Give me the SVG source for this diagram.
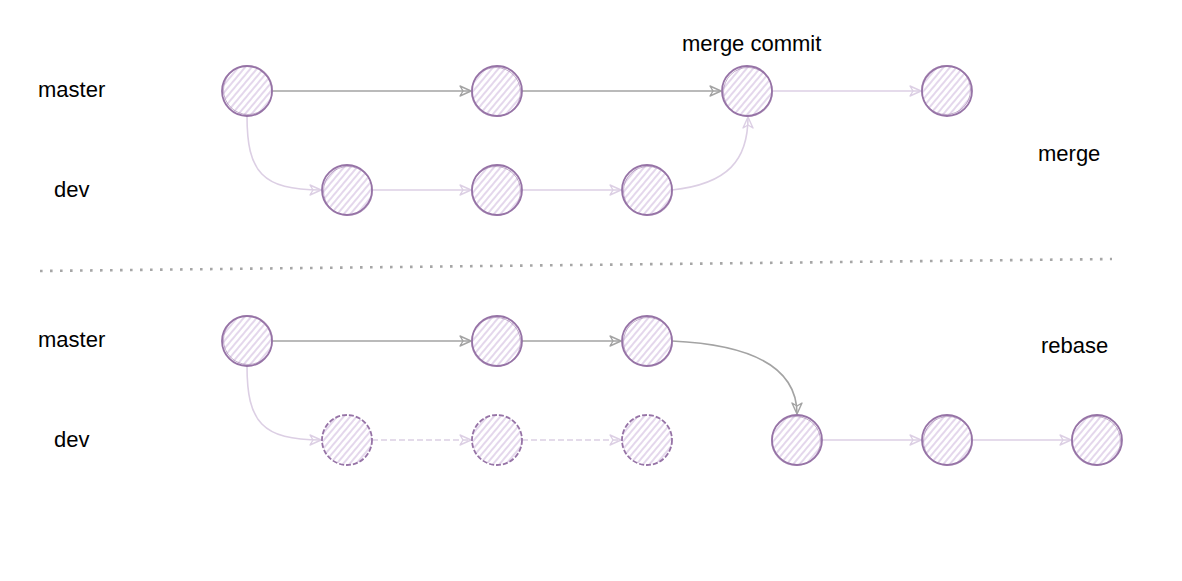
<svg xmlns="http://www.w3.org/2000/svg" width="1182" height="581" viewBox="0 0 1182 581">
<style>
  .lbl { font-family: "Liberation Sans", Arial, sans-serif; font-size: 22px; fill: #000; }
  .node { fill: url(#hatch); stroke: #9673a6; stroke-width: 1.8; }
  .node2 { fill: none; stroke: #9673a6; stroke-width: 0.8; opacity: 0.7; }
  .dash { stroke-dasharray: 5 2; }
  .eg { fill: none; stroke: #a3a3a3; stroke-width: 1.6; marker-end: url(#arrG); }
  .ep { fill: none; stroke: #dccfe4; stroke-width: 1.6; marker-end: url(#arrP); }
  .epd { stroke-dasharray: 6 3; }
</style>
<defs>
  <pattern id="hatch" patternUnits="userSpaceOnUse" width="5" height="5" patternTransform="rotate(40)">
    <rect width="5" height="5" fill="#ffffff"/>
    <line x1="1" y1="0" x2="1" y2="5" stroke="#d9c6e4" stroke-width="1.4"/>
  </pattern>
  <marker id="arrG" markerUnits="userSpaceOnUse" markerWidth="14" markerHeight="12" refX="12" refY="6" orient="auto">
    <path d="M1,1 L12,6 L1,11 L4,6 Z" fill="none" stroke="#a3a3a3" stroke-width="1.4" stroke-linejoin="round"/>
  </marker>
  <marker id="arrP" markerUnits="userSpaceOnUse" markerWidth="14" markerHeight="12" refX="12" refY="6" orient="auto">
    <path d="M1,1 L12,6 L1,11 L4,6 Z" fill="none" stroke="#dccfe4" stroke-width="1.4" stroke-linejoin="round"/>
  </marker>
</defs>

<rect width="1182" height="581" fill="#ffffff"/>

<g id="separator">
  <line x1="40" y1="271" x2="1112" y2="259" stroke="#a6a6a6" stroke-width="2.6" stroke-dasharray="2.6 7.4"/>
</g>

<g id="connectors">
  <!-- merge section -->
  <path class="eg" d="M272,91 L471,91"/>
  <path class="eg" d="M522,91 L721,91"/>
  <path class="ep" d="M772,91 L921,91"/>
  <path class="ep" d="M247,116 C247,172 262,190 321,190"/>
  <path class="ep" d="M372,190 L471,190"/>
  <path class="ep" d="M522,190 L621,190"/>
  <path class="ep" d="M672,190 C728,184 748,160 748,117"/>
  <!-- rebase section -->
  <path class="eg" d="M272,341 L471,341"/>
  <path class="eg" d="M522,341 L621,341"/>
  <path class="eg" d="M672,341 C760,345 797,372 797,414"/>
  <path class="ep" d="M247,366 C247,422 262,440 321,440"/>
  <path class="ep epd" d="M372,440 L471,440"/>
  <path class="ep epd" d="M522,440 L621,440"/>
  <path class="ep" d="M822,440 L921,440"/>
  <path class="ep" d="M972,440 L1071,440"/>
</g>

<g id="m1"><circle class="node" cx="247" cy="91" r="25"/><circle class="node2" cx="248" cy="90" r="24.5"/></g>
<g id="m2"><circle class="node" cx="497" cy="91" r="25"/><circle class="node2" cx="496" cy="92" r="24.5"/></g>
<g id="m3"><circle class="node" cx="747" cy="91" r="25"/><circle class="node2" cx="748" cy="92" r="24.5"/></g>
<g id="m4"><circle class="node" cx="947" cy="91" r="25"/><circle class="node2" cx="946" cy="90" r="24.5"/></g>
<g id="d1"><circle class="node" cx="347" cy="190" r="25"/><circle class="node2" cx="348" cy="191" r="24.5"/></g>
<g id="d2"><circle class="node" cx="497" cy="190" r="25"/><circle class="node2" cx="496" cy="191" r="24.5"/></g>
<g id="d3"><circle class="node" cx="647" cy="190" r="25"/><circle class="node2" cx="648" cy="191" r="24.5"/></g>

<g id="rm1"><circle class="node" cx="247" cy="341" r="25"/><circle class="node2" cx="248" cy="340" r="24.5"/></g>
<g id="rm2"><circle class="node" cx="497" cy="341" r="25"/><circle class="node2" cx="496" cy="342" r="24.5"/></g>
<g id="rm3"><circle class="node" cx="647" cy="341" r="25"/><circle class="node2" cx="648" cy="342" r="24.5"/></g>
<g id="rd1"><circle class="node dash" cx="347" cy="440" r="25"/></g>
<g id="rd2"><circle class="node dash" cx="497" cy="440" r="25"/></g>
<g id="rd3"><circle class="node dash" cx="647" cy="440" r="25"/></g>
<g id="rd4"><circle class="node" cx="797" cy="440" r="25"/><circle class="node2" cx="796" cy="441" r="24.5"/></g>
<g id="rd5"><circle class="node" cx="947" cy="440" r="25"/><circle class="node2" cx="948" cy="441" r="24.5"/></g>
<g id="rd6"><circle class="node" cx="1097" cy="440" r="25"/><circle class="node2" cx="1096" cy="441" r="24.5"/></g>

<g id="labels">
  <text class="lbl" x="38" y="97">master</text>
  <text class="lbl" x="54" y="197">dev</text>
  <text class="lbl" x="38" y="347">master</text>
  <text class="lbl" x="54" y="447">dev</text>
  <text class="lbl" x="682" y="51">merge commit</text>
  <text class="lbl" x="1038" y="161">merge</text>
  <text class="lbl" x="1041" y="353">rebase</text>
</g>
</svg>
